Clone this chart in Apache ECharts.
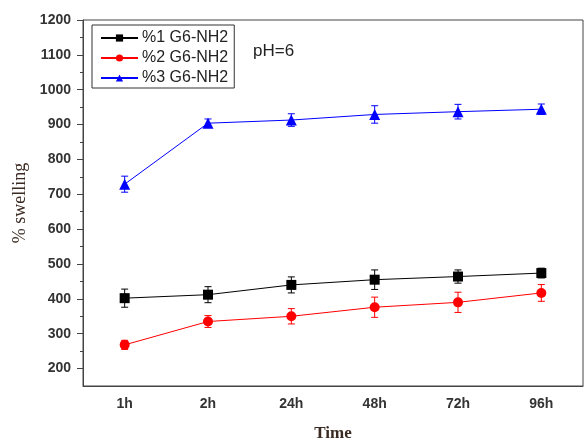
<!DOCTYPE html>
<html>
<head>
<meta charset="utf-8">
<script src="https://cdn.jsdelivr.net/npm/echarts@6/dist/echarts.min.js"></script>
<style>html,body{margin:0;padding:0;background:#fff;}#c{width:585px;height:442px;}</style>
</head>
<body>
<div id="c"></div>
<script>
var categories = ['1h', '2h', '24h', '48h', '72h', '96h'];
var s1Name = '%1 G6-NH2';
var s2Name = '%2 G6-NH2';
var s3Name = '%3 G6-NH2';
var s1Values = [402, 412, 440, 455, 464, 474];
var s2Values = [268, 335, 350, 376, 390, 417];
var s3Values = [729, 904, 913, 929, 937, 944];
var s1Err = [26, 23, 23, 28, 19, 14];
var s2Err = [13, 17, 22, 29, 29, 24];
var s3Err = [23, 12, 18, 25, 21, 15];
var yMajorTicks = [200, 300, 400, 500, 600, 700, 800, 900, 1000, 1100, 1200];
var yMinorTicks = [250, 350, 450, 550, 650, 750, 850, 950, 1050, 1150];

function errData(vals, errs) {
  return vals.map(function (v, i) { return [i, v - errs[i], v + errs[i]]; });
}
function errSeries(name, vals, errs, color) {
  return {
    name: name,
    type: 'custom',
    xAxisIndex: 0, yAxisIndex: 0,
    data: errData(vals, errs),
    z: 3,
    silent: true,
    renderItem: function (params, api) {
      var x = api.value(0);
      var lo = api.coord([x, api.value(1)]);
      var hi = api.coord([x, api.value(2)]);
      var w = 3.5;
      var st = { stroke: color, lineWidth: 1 };
      return {
        type: 'group',
        children: [
          { type: 'line', shape: { x1: lo[0], y1: lo[1], x2: hi[0], y2: hi[1] }, style: st },
          { type: 'line', shape: { x1: lo[0] - w, y1: lo[1], x2: lo[0] + w, y2: lo[1] }, style: st },
          { type: 'line', shape: { x1: hi[0] - w, y1: hi[1], x2: hi[0] + w, y2: hi[1] }, style: st }
        ]
      };
    }
  };
}
function lineSeries(name, vals, color, symbol, size) {
  return {
    name: name, type: 'line', data: vals,
    xAxisIndex: 0, yAxisIndex: 0,
    symbol: symbol, symbolSize: size,
    itemStyle: { color: color },
    lineStyle: { color: color, width: 1 },
    z: 4
  };
}

var chart = echarts.init(document.getElementById('c'), null, { renderer: 'canvas' });
var labelColor = '#333';
chart.setOption({
  animation: false,
  backgroundColor: '#fff',
  grid: { left: 83, right: 2, top: 20, bottom: 56, show: true, borderColor: '#444', borderWidth: 1, containLabel: false, outerBoundsMode: 'none' },
  title: {
    text: 'pH=6', left: 248, top: 38,
    textStyle: { fontFamily: 'Liberation Sans', fontSize: 17, fontWeight: 'normal', color: '#222' }
  },
  legend: {
    orient: 'vertical', left: 92, top: 25,
    data: [s1Name, s2Name, s3Name],
    itemWidth: 37, itemHeight: 9, itemGap: 4,
    padding: [5, 6, 2, 8],
    borderColor: '#333', borderWidth: 1,
    textStyle: { fontFamily: 'Liberation Sans', fontSize: 16, color: '#222', padding: [0, 0, 0, -1] }
  },
  xAxis: [
    {
      type: 'category', data: categories, boundaryGap: true,
      name: 'Time', nameLocation: 'middle', nameGap: 39,
      nameTextStyle: { fontFamily: 'Liberation Serif', fontSize: 17, fontWeight: 'bold', color: '#3a2a22' },
      axisLine: { lineStyle: { color: '#444' } },
      axisTick: { alignWithLabel: true, length: 5, lineStyle: { color: '#444' } },
      axisLabel: { fontFamily: 'Liberation Sans', fontSize: 14, fontWeight: 'bold', color: labelColor, margin: 11 },
      splitLine: { show: false }
    },
    {
      type: 'category', data: categories, boundaryGap: true, position: 'bottom',
      axisLine: { show: false },
      axisTick: { alignWithLabel: false, length: 3, lineStyle: { color: '#444' } },
      axisLabel: { show: false },
      splitLine: { show: false }
    }
  ],
  yAxis: [
    {
      type: 'value', min: 150, max: 1200,
      name: '% swelling', nameLocation: 'middle', nameGap: 52, nameRotate: 90,
      nameTextStyle: { fontFamily: 'Liberation Serif', fontSize: 18, color: '#3a2a22' },
      axisLine: { show: true, lineStyle: { color: '#444' } },
      axisTick: { show: true, length: 6, customValues: yMajorTicks, lineStyle: { color: '#444' } },
      axisLabel: {
        customValues: yMajorTicks, fontFamily: 'Liberation Sans', fontSize: 14, fontWeight: 'bold', color: labelColor, margin: 12,
        formatter: function (v) { return String(v); }
      },
      splitLine: { show: false }
    },
    {
      type: 'value', min: 150, max: 1200, position: 'left',
      axisLine: { show: false },
      axisTick: { show: true, length: 3, customValues: yMinorTicks, lineStyle: { color: '#444' } },
      axisLabel: { show: false, customValues: yMinorTicks },
      splitLine: { show: false }
    }
  ],
  series: [
    lineSeries(s1Name, s1Values, '#000000', 'rect', 10),
    lineSeries(s2Name, s2Values, '#ff0000', 'circle', 10),
    lineSeries(s3Name, s3Values, '#0000ff', 'triangle', 11),
    errSeries(s1Name, s1Values, s1Err, '#000000'),
    errSeries(s2Name, s2Values, s2Err, '#ff0000'),
    errSeries(s3Name, s3Values, s3Err, '#0000ff')
  ]
});
</script>
</body>
</html>
